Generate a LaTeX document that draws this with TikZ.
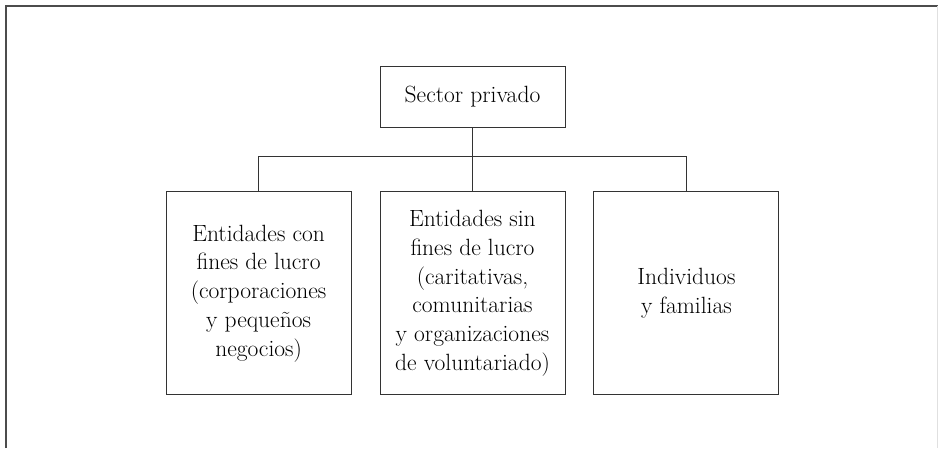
\documentclass[tikz,border=0pt]{standalone}
\usepackage{fontspec}
\usetikzlibrary{positioning, calc}

\begin{document}
\begin{tikzpicture}[
  x=1pt, y=-1pt,
  box/.style={rectangle, draw=black!80, line width=0.9pt, align=center,
              minimum width=185pt, minimum height=203pt, inner sep=0pt,
              font=\fontsize{23.5}{28.7}\selectfont},
  link/.style={draw=black!80, line width=0.9pt},
]
\useasboundingbox (0,0) rectangle (939,448);

% ---- marco ----
\draw[black!70, line width=2pt] (5.5,448) -- (5.5,5.5) -- (937.5,5.5);
\draw[black!12, line width=1pt] (937.5,5.5) -- (937.5,448);

\node[box, minimum height=61pt] (sector) at (472.5,96.5) {Sector privado};

\node[box, below=64pt of sector] (sinlucro)
  {Entidades sin\\fines de lucro\\(caritativas,\\comunitarias\\y organizaciones\\de voluntariado)};
\node[box, left=28pt of sinlucro] (conlucro)
  {Entidades con\\fines de lucro\\(corporaciones\\y pequeños\\negocios)};
\node[box, right=28pt of sinlucro] (familias) {Individuos\\y familias};

% ---- conexiones ----
\coordinate (bus) at ($(sector.south)!0.453!(sinlucro.north)$);
\draw[link] (sector.south) -- (sinlucro.north);
\draw[link] (conlucro.north) |- (bus) -| (familias.north);

\end{tikzpicture}
\end{document}
